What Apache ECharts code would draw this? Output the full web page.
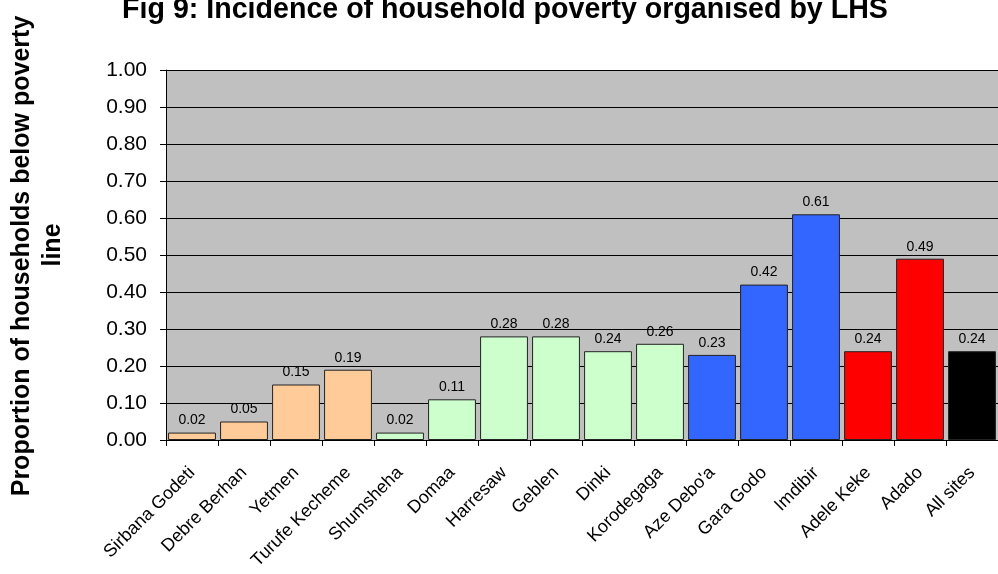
<!DOCTYPE html>
<html>
<head>
<meta charset="utf-8">
<script src="https://cdn.jsdelivr.net/npm/echarts@6/dist/echarts.min.js"></script>
<style>html,body{margin:0;padding:0;background:#fff}#c{width:998px;height:574px}</style>
</head>
<body>
<div id="c"></div>
<script>
const categories = ["Sirbana Godeti","Debre Berhan","Yetmen","Turufe Kecheme","Shumsheha","Domaa","Harresaw","Geblen","Dinki","Korodegaga","Aze Debo'a","Gara Godo","Imdibir","Adele Keke","Adado","All sites"];
const values = [0.02,0.05,0.15,0.19,0.02,0.11,0.28,0.28,0.24,0.26,0.23,0.42,0.61,0.24,0.49,0.24];
const groups = ["a","a","a","a","b","b","b","b","b","b","c","c","c","d","d","e"];
const yTicks = [0,0.1,0.2,0.3,0.4,0.5,0.6,0.7,0.8,0.9,1.0];
const yTitleLines = ["Proportion of households below poverty","line"];

const groupColor = {a:"#FFCC99", b:"#CCFFCC", c:"#3366FF", d:"#FF0000", e:"#000000"};
const font = "Arial, 'Liberation Sans', sans-serif";

const chart = echarts.init(document.getElementById('c'), null, {renderer:'canvas'});
chart.setOption({
  animation:false,
  backgroundColor:'#ffffff',
  title:{
    text:"Fig 9: Incidence of household poverty organised by LHS",
    left:500, top:-9, textAlign:'center',
    textStyle:{fontFamily:font, fontWeight:'bold', fontSize:28.6, color:'#000'}
  },
  grid:{left:166, right:0, top:70, bottom:134, show:true, backgroundColor:'#C0C0C0', borderWidth:0},
  xAxis:{
    type:'category', data:categories,
    axisLine:{lineStyle:{color:'#000', width:1}},
    axisTick:{show:true, alignWithLabel:false, length:6, lineStyle:{color:'#000'}},
    axisLabel:{rotate:45, fontFamily:font, fontSize:18, color:'#000', margin:30, interval:0}
  },
  yAxis:{
    type:'value', min:yTicks[0], max:yTicks[yTicks.length-1], interval:0.1,
    axisLine:{show:true, lineStyle:{color:'#000', width:1}},
    axisTick:{show:true, length:6, lineStyle:{color:'#000'}},
    axisLabel:{fontFamily:font, fontSize:21, color:'#000', margin:19, formatter:v=>v.toFixed(2)},
    splitLine:{show:true, lineStyle:{color:'#000', width:1}}
  },
  graphic:[{
    type:'text',
    x:22, y:256, rotation:Math.PI/2,
    style:{text:yTitleLines[0], fontFamily:font, fontWeight:'bold', fontSize:25, fill:'#000', align:'center', verticalAlign:'middle'}
  },{
    type:'text',
    x:53, y:245, rotation:Math.PI/2,
    style:{text:yTitleLines[1], fontFamily:font, fontWeight:'bold', fontSize:25, fill:'#000', align:'center', verticalAlign:'middle'}
  }],
  series:[{
    type:'bar',
    barCategoryGap:'8%',
    data: values.map((v,i)=>({value:v, itemStyle:{color:groupColor[groups[i]]}})),
    itemStyle:{borderColor:'#222', borderWidth:1},
    label:{show:true, position:'top', distance:5, fontFamily:font, fontSize:14, color:'#000', formatter:p=>p.value.toFixed(2)}
  }]
});
</script>
</body>
</html>
